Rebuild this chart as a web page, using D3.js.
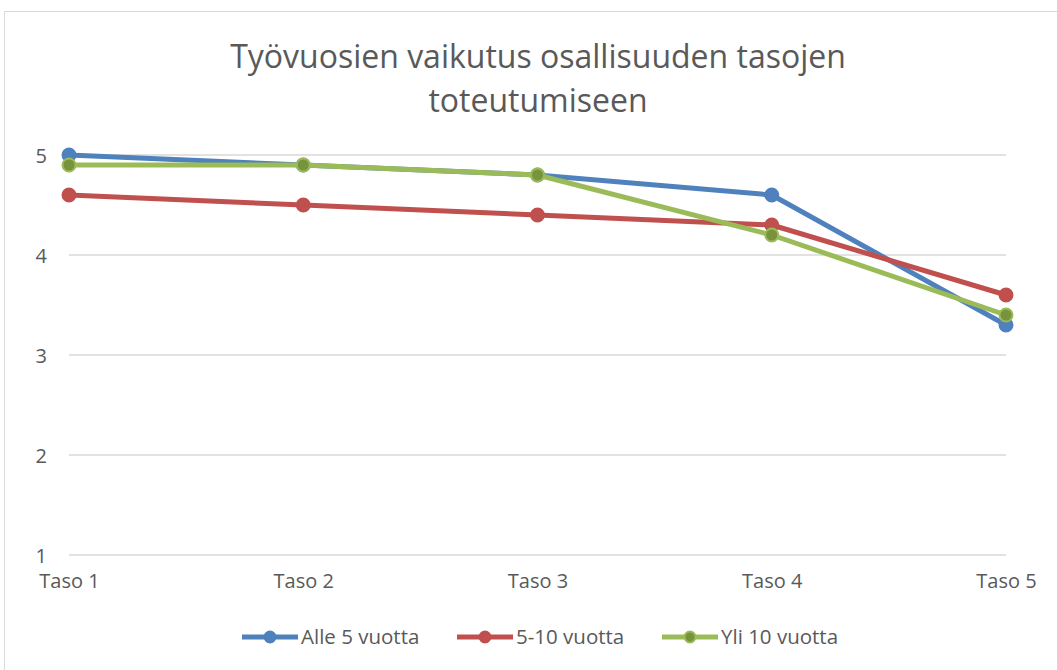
<!DOCTYPE html>
<html>
<head>
<meta charset="utf-8">
<script src="https://cdn.jsdelivr.net/npm/d3@7"></script>
<style>
  body { margin: 0; background: #fff; }
  text { font-family: "Open Sans", "Liberation Sans", sans-serif; fill: #595959; }
</style>
</head>
<body>
<div id="chart"></div>
<script>
// Data
const categories = ['Taso 1', 'Taso 2', 'Taso 3', 'Taso 4', 'Taso 5'];
const seriesNames = ['Alle 5 vuotta', '5-10 vuotta', 'Yli 10 vuotta'];
const alle5 = [5.0, 4.9, 4.8, 4.6, 3.3];
const vuotta5to10 = [4.6, 4.5, 4.4, 4.3, 3.6];
const yli10 = [4.9, 4.9, 4.8, 4.2, 3.4];
const yTicks = [1, 2, 3, 4, 5];

const colors = ['#4F81BD', '#C0504D', '#9BBB59'];
const markerFill = ['#4F81BD', '#C0504D', '#77933C'];

const series = [alle5, vuotta5to10, yli10].map((v, i) => ({
    name: seriesNames[i],
    values: v,
    color: colors[i],
    fill: markerFill[i]
}));

const svgWidth = 1057, svgHeight = 670;

let svg = d3.select('#chart')
    .append('svg')
    .attr('width', svgWidth)
    .attr('height', svgHeight);

// Chart border
svg.append('rect')
    .attr('x', 4.5)
    .attr('y', 11.5)
    .attr('width', 1060)
    .attr('height', 700)
    .attr('fill', 'none')
    .attr('stroke', '#d9d9d9');

// Scales
let xScale = d3.scalePoint()
    .domain(categories)
    .range([69, 1006]);

let yScale = d3.scaleLinear()
    .domain([1, 5])
    .range([555, 155]);

// Gridlines
svg.append('g')
    .selectAll('line')
    .data(yTicks)
    .enter()
    .append('line')
    .attr('x1', xScale.range()[0])
    .attr('x2', xScale.range()[1])
    .attr('y1', d => yScale(d))
    .attr('y2', d => yScale(d))
    .attr('stroke', '#d9d9d9')
    .attr('stroke-width', 1.5);

// Y axis labels
let yAxis = d3.axisLeft(yScale)
    .tickValues(yTicks)
    .tickFormat(d3.format('d'))
    .tickSize(0)
    .tickPadding(0);
svg.append('g')
    .attr('transform', 'translate(47, 0)')
    .call(yAxis)
    .call(g => g.select('.domain').remove())
    .selectAll('text')
    .attr('dy', '0.35em')
    .style('font-size', '20px')
    .style('fill', '#595959');

// X axis labels
let xAxis = d3.axisBottom(xScale).tickSize(0).tickPadding(0);
svg.append('g')
    .attr('transform', 'translate(0, 574)')
    .call(xAxis)
    .call(g => g.select('.domain').remove())
    .selectAll('text')
    .attr('dy', '0.71em')
    .style('font-size', '20px')
    .style('fill', '#595959');

// Lines
let line = d3.line()
    .x((d, i) => xScale(categories[i]))
    .y(d => yScale(d));

series.forEach(s => {
    svg.append('path')
        .datum(s.values)
        .attr('d', line)
        .attr('fill', 'none')
        .attr('stroke', s.color)
        .attr('stroke-width', 5)
        .attr('stroke-linejoin', 'round');

    svg.selectAll(null)
        .data(s.values)
        .enter()
        .append('circle')
        .attr('cx', (d, i) => xScale(categories[i]))
        .attr('cy', d => yScale(d))
        .attr('r', 6.5)
        .attr('fill', s.fill)
        .attr('stroke', s.color)
        .attr('stroke-width', 2);
});

// Title
const title = svg.append('text')
    .attr('x', 538)
    .attr('text-anchor', 'middle')
    .style('font-size', '32px');
title.append('tspan').attr('x', 538).attr('y', 68).text('Työvuosien vaikutus osallisuuden tasojen');
title.append('tspan').attr('x', 538).attr('y', 112).text('toteutumiseen');

// Legend
const legendX = [242, 457, 662];
const legend = svg.append('g');
series.forEach((s, i) => {
    let g = legend.append('g').attr('transform', `translate(${legendX[i]}, 637)`);
    g.append('line')
        .attr('x1', 0).attr('x2', 56)
        .attr('y1', 0).attr('y2', 0)
        .attr('stroke', s.color)
        .attr('stroke-width', 5);
    g.append('circle')
        .attr('cx', 28).attr('cy', 0).attr('r', 5.5)
        .attr('fill', s.fill)
        .attr('stroke', s.color)
        .attr('stroke-width', 2);
    g.append('text')
        .attr('x', 59)
        .attr('y', 0)
        .attr('dy', '0.35em')
        .style('font-size', '20.5px')
        .text(s.name);
});
</script>
</body>
</html>
